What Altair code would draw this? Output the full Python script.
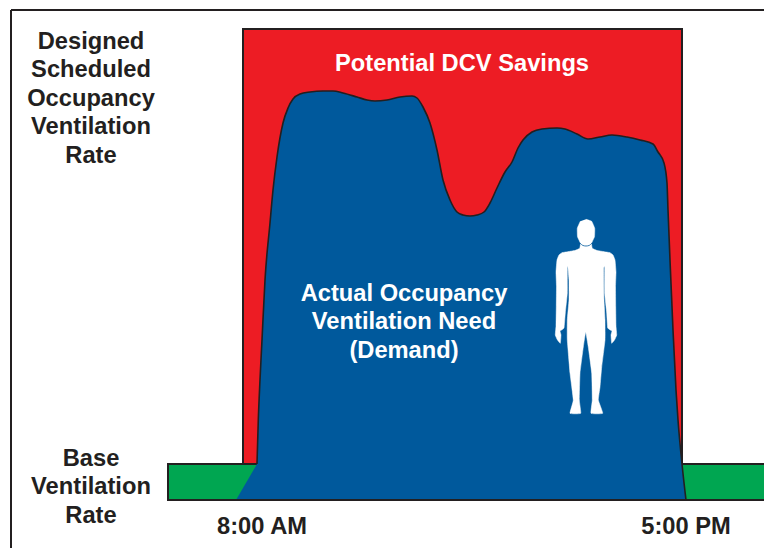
import altair as alt
import pandas as pd

INK = "#231f20"
GREEN = "#00a651"
RED = "#ed1c24"
BLUE = "#00599c"

demand_x = [257, 258.3, 260, 262, 265, 270, 273, 277, 283, 288, 293, 300, 310, 323, 333, 343, 357, 367, 375, 387, 400,
            412, 417, 423, 430, 437, 443, 450, 457, 463, 470, 477, 484, 490, 497, 505, 512, 518, 523, 532, 542, 557,
            565, 577, 588, 600, 612, 627, 640, 653, 658, 664, 667, 668, 670, 673, 676, 678, 682, 686]
demand_y = [464, 420, 380, 340, 280, 223, 190, 157, 123, 108, 99, 94, 92, 91, 91, 93, 97, 100, 101, 100, 97,
            96, 98, 107, 123, 150, 180, 200, 212, 215, 216, 215, 212, 203, 188, 172, 162, 148, 140, 132, 129, 128,
            129, 134, 139, 137, 135, 137, 140, 144, 152, 163, 183, 210, 260, 330, 390, 420, 464, 500]
ramp_x = [236, 257]
ramp_y = [500, 464]
base_y = 500

person_x = [586, 591.7, 594.7, 594.5, 591.5, 592.3, 597, 603, 610, 613, 615, 616, 615.5, 615.7, 616, 616.7, 614.5, 611.7, 611,
            612, 607.7, 606.7, 604.7, 604.7, 603.7, 603.7, 604, 605, 605, 601.7, 600, 598.3, 602.7, 591, 592.3,
            591.7, 588.3, 585.7, 583.3, 580, 579.3, 580.7, 570, 573.3, 570, 567.3, 567.3, 569, 569, 568, 567.3,
            567.3, 565.3, 564, 560, 561, 560.3, 557.5, 555.3, 556, 556.3, 556.5, 556, 557, 559, 562, 569, 575, 579.7,
            580.5, 577.5, 577.3, 580.3]
person_y = [219.3, 221.3, 228.3, 236.7, 243.3, 248.3, 250.5, 251.5, 252.7, 255, 260, 272, 286.7, 306.7, 326, 335, 340, 343.3,
            335, 331, 328, 313, 293, 267, 268, 280, 300, 320, 340, 367, 387, 400, 413.3, 413.3, 400, 373, 347, 332,
            347, 373, 400, 413.3, 413.3, 400, 373, 340, 320, 300, 280, 268, 267, 293, 313, 328, 331, 335, 343.3,
            340, 335, 326, 306.7, 286.7, 272, 260, 255, 252.7, 251.5, 250.5, 248.3, 243.3, 236.7, 228.3, 221.3]

chin_x = [580, 583, 586, 589, 592]
chin_y = [243, 245.5, 246, 245.5, 243]

label_text = ["Designed", "Scheduled", "Occupancy", "Ventilation", "Rate",
              "Base", "Ventilation", "Rate", "8:00 AM", "5:00 PM",
              "Potential DCV Savings", "Actual Occupancy", "Ventilation Need", "(Demand)"]
label_x = [91, 91, 91, 91, 91, 91, 91, 91, 262, 686, 462, 404, 404, 404]
label_y = [41.5, 69.5, 98.5, 126.5, 155.5, 458.5, 486.5, 515.5, 527, 527, 63.5, 293.5, 321.5, 351]
label_color = ["ink"] * 10 + ["white"] * 4

xs = alt.Scale(domain=[8, 764], range=[0, 756], nice=False, zero=False)
ys = alt.Scale(domain=[8, 548], range=[0, 540], nice=False, zero=False)
X = alt.X("x:Q", scale=xs, axis=None)
Y = alt.Y("y:Q", scale=ys, axis=None)


def poly(xv, yv):
    return pd.DataFrame({"x": xv, "y": yv, "i": range(len(xv)), "b": base_y})


frame_top = alt.Chart(pd.DataFrame({"x": [11], "x2": [764], "y": [10]})).mark_rule(color=INK, strokeWidth=2).encode(
    x=X, x2="x2:Q", y=Y)
frame_left = alt.Chart(pd.DataFrame({"x": [11], "y": [10], "y2": [548]})).mark_rule(color=INK, strokeWidth=2).encode(
    x=X, y=Y, y2="y2:Q")

red = alt.Chart(pd.DataFrame({"x": [243], "x2": [682], "y": [29], "y2": [464]})).mark_rect(
    fill=RED, stroke=INK, strokeWidth=2).encode(x=X, x2="x2:Q", y=Y, y2="y2:Q")
green = alt.Chart(pd.DataFrame({"x": [168], "x2": [780], "y": [464], "y2": [500]})).mark_rect(
    fill=GREEN, stroke=INK, strokeWidth=2, clip=True).encode(x=X, x2="x2:Q", y=Y, y2="y2:Q")

blue_ramp = alt.Chart(poly(ramp_x, ramp_y)).mark_area(color=BLUE).encode(x=X, y=Y, y2="b:Q")
blue_fill = alt.Chart(poly(demand_x, demand_y)).mark_area(color=BLUE, interpolate="monotone").encode(
    x=X, y=Y, y2="b:Q")
blue_edge = alt.Chart(poly(demand_x, demand_y)).mark_line(
    stroke=INK, strokeWidth=1.6, interpolate="monotone").encode(x=X, y=Y)
bottom = alt.Chart(pd.DataFrame({"x": [236], "x2": [686], "y": [base_y]})).mark_rule(color=INK, strokeWidth=2).encode(
    x=X, x2="x2:Q", y=Y)

person = alt.Chart(poly(person_x, person_y)).mark_line(
    fill="white", stroke="white", strokeWidth=0.5, interpolate="cardinal", tension=0.7).encode(x=X, y=Y, order="i:Q")
chin = alt.Chart(poly(chin_x, chin_y)).mark_line(
    stroke=BLUE, strokeWidth=0.8, interpolate="monotone").encode(x=X, y=Y, order="i:Q")

labels = alt.Chart(pd.DataFrame({"x": label_x, "y": label_y, "t": label_text, "c": label_color})).mark_text(
    font="Liberation Sans", fontWeight="bold", fontSize=23.7, align="center", baseline="middle").encode(
    x=X, y=Y, text="t:N",
    color=alt.Color("c:N", scale=alt.Scale(domain=["ink", "white"], range=[INK, "white"]), legend=None))

chart = alt.layer(frame_top, frame_left, red, green, blue_ramp, blue_fill, blue_edge, bottom, person, chin,
                  labels).properties(
    width=756, height=540, padding=0, autosize=alt.AutoSizeParams(type="none"),
    background="white").configure_view(stroke=None)

chart.save("out.html", embed_options={"renderer": "svg", "actions": False})
